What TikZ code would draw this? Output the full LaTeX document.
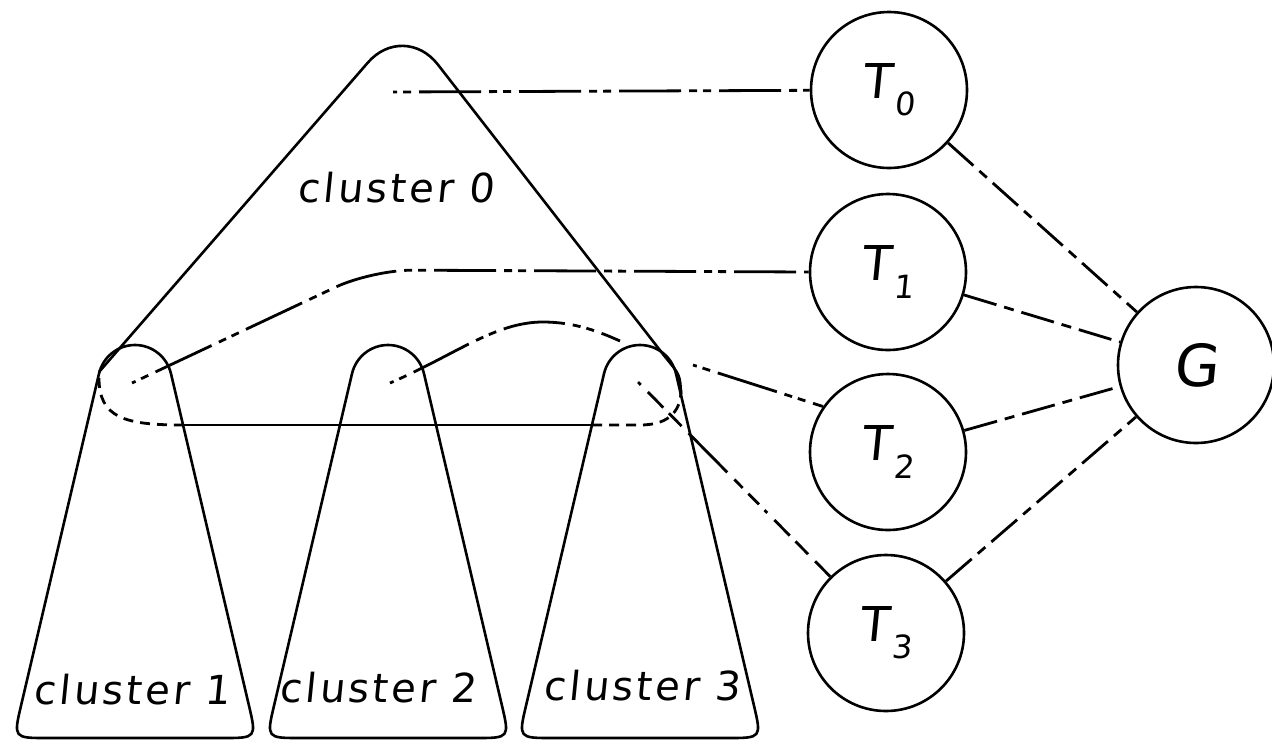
\documentclass[tikz,border=0pt]{standalone}
\usepackage{fontspec}
\newfontfamily\hand{DejaVu Sans}[FakeSlant=0.1,LetterSpace=8]
\newfontfamily\handT{DejaVu Sans}[FakeSlant=0.1]
\newcommand{\Tsub}[1]{T\kern0.06em\raisebox{-0.36em}{\fontsize{32}{34}\selectfont #1}}
\begin{document}
\begin{tikzpicture}[x=1pt,y=1pt,yscale=-1,line width=2.6pt,
  tnode/.style={circle,draw,line width=2.6pt,minimum size=156pt,inner sep=0pt,
                font=\handT\fontsize{48}{52}\selectfont},
  gnode/.style={tnode,font=\handT\fontsize{58}{62}\selectfont},
  lbl/.style={inner sep=0pt,font=\hand\fontsize{40}{44}\selectfont},
  clus/.style={draw,line width=2.6pt,line join=round},
  dashdot/.style={line width=2.8pt,dash pattern=on 62pt off 8pt on 8pt off 6pt on 8pt off 8pt,dash phase=74pt},
  gdash/.style={line width=2.8pt,dash pattern=on 34pt off 8pt on 10pt off 8pt},
  tdash/.style={line width=2.8pt,dash pattern=on 4pt off 10pt on 22pt off 8pt on 18pt off 10pt on 55pt off 10pt on 12pt off 8pt on 15pt off 8pt},
  sdash/.style={line width=2.8pt,dash pattern=on 10pt off 7pt}]
\useasboundingbox (0,0) rectangle (1272,745);
% cluster 0 triangle
\draw[rounded corners=55pt] (99,372) -- (404,21) -- (666,358);
\draw (666,358) .. controls (680,375) .. (681,394);
% clusters 1..3
\foreach \cx in {135,388,640}{
  \draw[clus,shift={(\cx,382)}] (-87.6,356) -- (87.6,356) .. controls (121.6,356) .. (113.8,322.9)
      -- (36,-8.3) .. controls (32.1,-25.1) and (17.2,-37) .. (0,-37)
      .. controls (-17.2,-37) and (-32.1,-25.1) .. (-36,-8.3)
      -- (-113.8,322.9) .. controls (-121.6,356) .. (-87.6,356) -- cycle;
}
% bottom loop of cluster 0
\draw[sdash] (99,378) .. controls (99,418) and (125,425) .. (183,425);
\draw (183,425) -- (592,425);
\draw[sdash] (592,425) -- (640,425) .. controls (672,425) and (681,408) .. (681,390);
% labels
\node[lbl] (c0) at (396,188) {cluster 0};
\node[lbl] (c1) at (132,690) {cluster 1};
\node[lbl] (c2) at (378,688) {cluster 2};
\node[lbl] (c3) at (642,686) {cluster 3};
% task nodes
\node[tnode] (T0) at (889,90) {\Tsub{0}};
\node[tnode] (T1) at (888,272) {\Tsub{1}};
\node[tnode] (T2) at (888,452) {\Tsub{2}};
\node[tnode] (T3) at (886,633) {\Tsub{3}};
\node[gnode] (G) at (1196,365) {G};
% connector ends inside the clusters
\coordinate (d0) at (393,92);
\coordinate (d1) at (132,383);
\coordinate (b1) at (372,270);
\coordinate (d2) at (390,383);
\coordinate (d3) at (638,382);
% connectors
\draw[dashdot] (d0) -- (T0);
\draw[dashdot,rounded corners=40pt] (d1) -- (b1) -- (T1.west);
\draw[dashdot] (d2) .. controls (455,355) and (495,322) .. (543,322)
   .. controls (575,322) and (600,332) .. (620,341) (693,365) -- (T2.145);
\draw[tdash] (d3) -- (T3);
\draw[gdash] (T0) -- (G);
\draw[gdash] (T1) -- (G);
\draw[gdash] (T2) -- (G);
\draw[gdash] (T3) -- (G);
\end{tikzpicture}
\end{document}
